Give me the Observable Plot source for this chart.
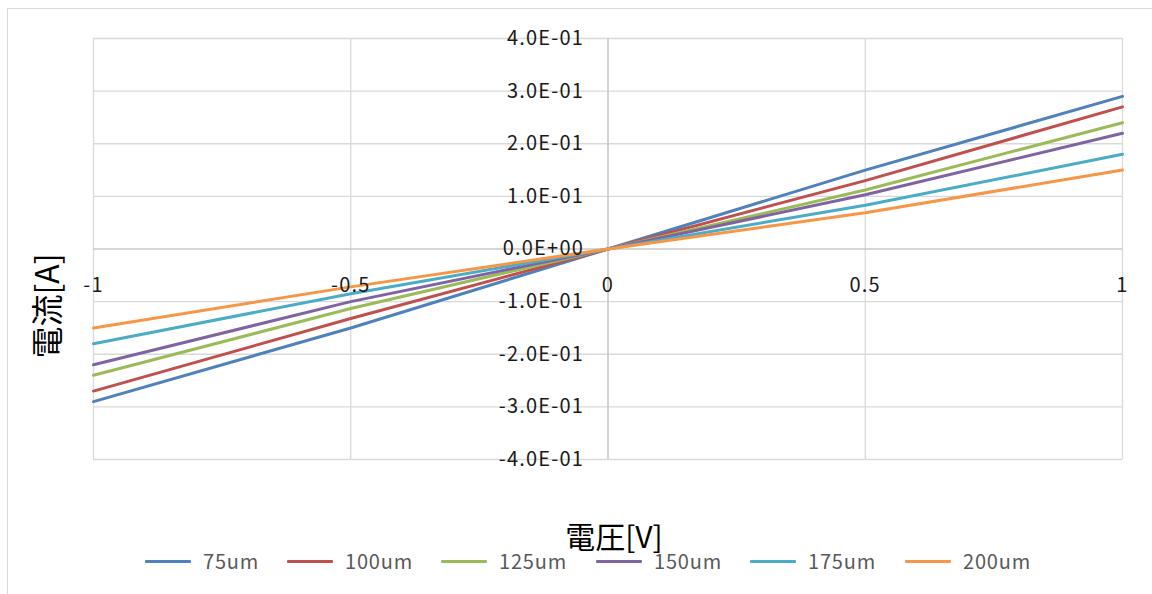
<!DOCTYPE html>
<html>
<head>
<meta charset="utf-8">
<script src="https://cdn.jsdelivr.net/npm/d3@7"></script>
<script src="https://cdn.jsdelivr.net/npm/@observablehq/plot@0.6"></script>
<style>
  html, body { margin: 0; padding: 0; background: #fff; }
  #wrap { position: relative; width: 1152px; height: 594px; overflow: hidden; font-family: "Noto Sans CJK JP", "Noto Sans", sans-serif; }
  #border { position: absolute; left: 7px; top: 8px; width: 1200px; height: 700px; border-left: 1px solid #d9d9d9; border-top: 1px solid #d9d9d9; }
  #chart { position: absolute; left: 0; top: 0; }
  .ytitle { position: absolute; left: 45px; top: 306px; transform: translate(-50%, -50%) rotate(-90deg); font-size: 32px; color: #000; white-space: nowrap; line-height: 1; }
  .xtitle { position: absolute; left: 614px; top: 535px; transform: translate(-50%, -50%); font-size: 30px; color: #000; white-space: nowrap; line-height: 1; }
  #legend { position: absolute; left: 0; top: 561px; width: 1152px; height: 0; font-size: 20px; letter-spacing: 0.8px; color: #595959; line-height: 1; }
  .item { position: absolute; top: 0; display: flex; align-items: center; transform: translateY(-50%); }
  .sw { width: 46px; height: 3px; margin-right: 12px; border-radius: 1px; }
</style>
</head>
<body>
<div id="wrap">
  <div id="border"></div>
  <div id="chart"></div>
  <div class="ytitle">電流[A]</div>
  <div class="xtitle">電圧[V]</div>
  <div id="legend"></div>
</div>
<script>
// ---- data ----
const voltages = [-1, -0.5, 0, 0.5, 1];
const seriesNames = ["75um", "100um", "125um", "150um", "175um", "200um"];
const i75  = [-0.29, -0.150, 0, 0.150, 0.29];
const i100 = [-0.27, -0.132, 0, 0.130, 0.27];
const i125 = [-0.24, -0.113, 0, 0.112, 0.24];
const i150 = [-0.22, -0.100, 0, 0.103, 0.22];
const i175 = [-0.18, -0.085, 0, 0.083, 0.18];
const i200 = [-0.15, -0.072, 0, 0.069, 0.15];
const seriesColors = ["#4F81BD", "#C0504D", "#9BBB59", "#8064A2", "#4BACC6", "#F79646"];
const xTicks = [-1, -0.5, 0, 0.5, 1];
const xTickLabels = ["-1", "-0.5", "0", "0.5", "1"];
const yTicks = [-0.4, -0.3, -0.2, -0.1, 0, 0.1, 0.2, 0.3, 0.4];
const yTickLabels = ["-4.0E-01", "-3.0E-01", "-2.0E-01", "-1.0E-01", "0.0E+00", "1.0E-01", "2.0E-01", "3.0E-01", "4.0E-01"];
const legendLeft = [145, 287, 441, 596, 750, 905];

const seriesValues = [i75, i100, i125, i150, i175, i200];
const rows = [];
seriesNames.forEach((s, k) => {
  voltages.forEach((v, j) => rows.push({ v, i: seriesValues[k][j], s }));
});

const chart = Plot.plot({
  width: 1152,
  height: 594,
  marginTop: 38,
  marginBottom: 135,
  marginLeft: 93,
  marginRight: 30,
  style: { fontFamily: "'Noto Sans CJK JP', 'Noto Sans', sans-serif", background: "transparent", letterSpacing: "1.2px" },
  x: { domain: [-1, 1], axis: null },
  y: { domain: [-0.4, 0.4], axis: null },
  color: { domain: seriesNames, range: seriesColors },
  marks: [
    Plot.ruleX(xTicks.filter(d => d !== 0), { stroke: "#d9d9d9", strokeWidth: 1.3 }),
    Plot.ruleY(yTicks.filter(d => d !== 0), { stroke: "#d9d9d9", strokeWidth: 1.3 }),
    Plot.ruleX([0], { stroke: "#c8c8c8", strokeWidth: 1.6 }),
    Plot.ruleY([0], { stroke: "#c8c8c8", strokeWidth: 1.6 }),
    Plot.line(rows, { x: "v", y: "i", z: "s", stroke: "s", strokeWidth: 3, strokeLinejoin: "round", strokeLinecap: "round" }),
    Plot.text(yTicks, { x: d => 0, y: d => d, text: (d, k) => yTickLabels[k], textAnchor: "end", dx: -24, fontSize: 20, fill: "#1a1a1a" }),
    Plot.text(xTicks, { x: d => d, y: d => 0, text: (d, k) => xTickLabels[k], dy: 37, fontSize: 20, fill: "#1a1a1a" })
  ]
});
document.getElementById("chart").appendChild(chart);

const legend = document.getElementById("legend");
seriesNames.forEach((s, k) => {
  const it = document.createElement("div");
  it.className = "item";
  it.style.left = legendLeft[k] + "px";
  const sw = document.createElement("div");
  sw.className = "sw";
  sw.style.background = seriesColors[k];
  const tx = document.createElement("span");
  tx.textContent = s;
  it.appendChild(sw);
  it.appendChild(tx);
  legend.appendChild(it);
});
</script>
</body>
</html>
